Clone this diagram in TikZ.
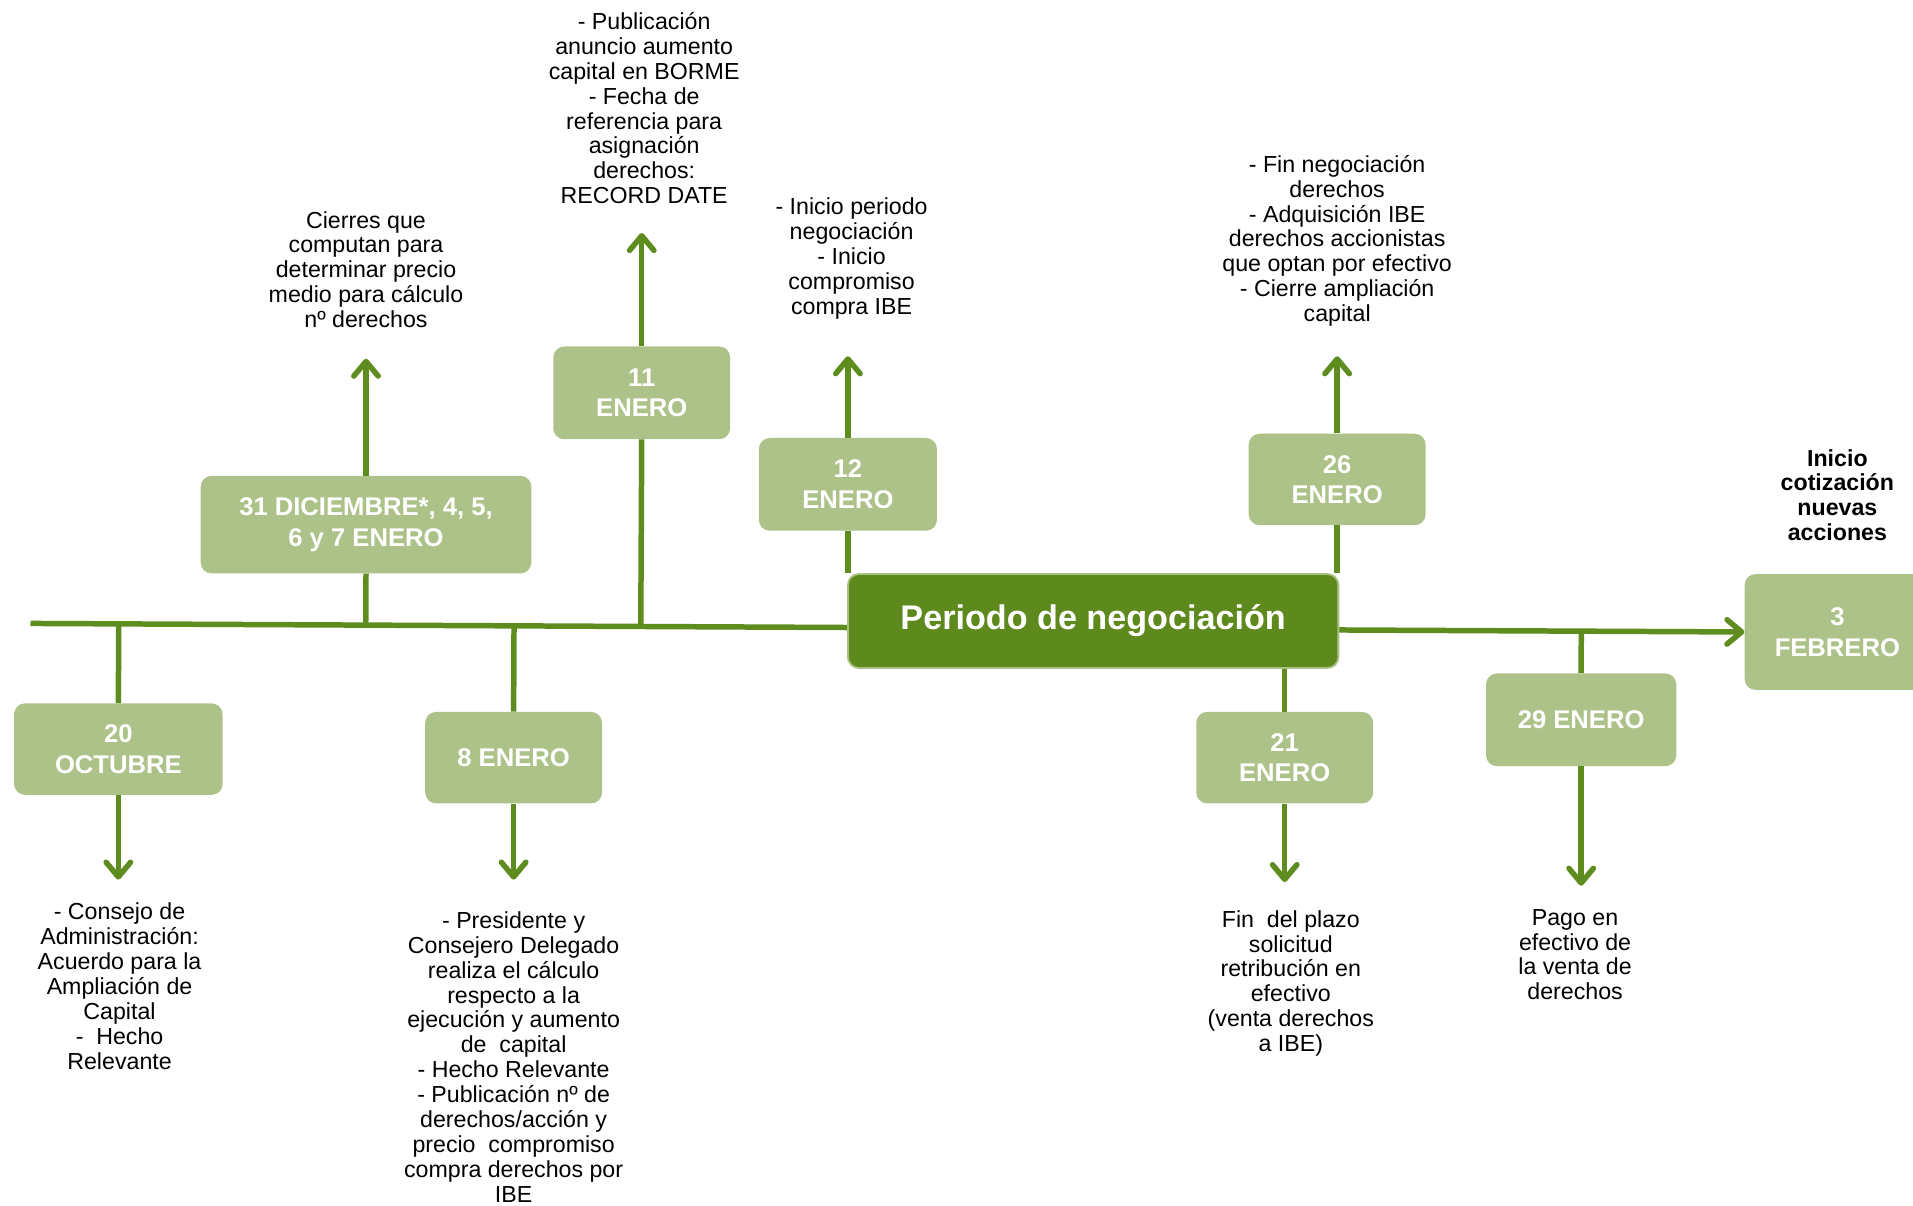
\documentclass[tikz,border=0pt]{standalone}
\usepackage{fontspec}
\setmainfont{Liberation Sans}
\usetikzlibrary{arrows.meta,calc}
\definecolor{linegreen}{HTML}{5E8C1F}
\definecolor{boxgreen}{HTML}{ADC288}
\definecolor{darkgreen}{HTML}{5E891D}
\definecolor{edgegreen}{HTML}{A9C283}
\tikzset{
  datebox/.style={rectangle, rounded corners=9pt, fill=boxgreen, text=white,
    font=\fontsize{21}{25}\selectfont\bfseries, align=center, inner sep=0pt},
  note/.style={font=\fontsize{19}{20.4}\selectfont, align=center, inner sep=0pt, anchor=north},
  stem/.style={draw=linegreen, line width=4.5pt},
  arr/.style={stem, -{Straight Barb[length=12pt,width=20pt,round]}},
}
\begin{document}
\begin{tikzpicture}[x=1pt,y=-1pt]
  \useasboundingbox (0,0) rectangle (1568,987.7);
  % date boxes
  \node[datebox, minimum width=171pt, minimum height=75pt] (oct) at (97,614) {20\\OCTUBRE};
  \node[datebox, minimum width=271pt, minimum height=80pt] (dic) at (300,430) {31 DICIEMBRE*, 4, 5,\\6 y 7 ENERO};
  \node[datebox, minimum width=145pt, minimum height=75pt] (e8) at (421,621) {8 ENERO};
  \node[datebox, minimum width=145pt, minimum height=76pt] (e11) at (526,322) {11\\ENERO};
  \node[datebox, minimum width=146pt, minimum height=76pt] (e12) at (695,397) {12\\ENERO};
  \node[datebox, minimum width=145pt, minimum height=75pt] (e26) at (1096,393) {26\\ENERO};
  \node[datebox, minimum width=145pt, minimum height=75pt] (e21) at (1053,621) {21\\ENERO};
  \node[datebox, minimum width=156pt, minimum height=76pt] (e29) at (1296,590) {29 ENERO};
  \node[datebox, minimum width=152pt, minimum height=95pt] (feb) at (1506,518) {3\\FEBRERO};
  % time line
  \coordinate (tlstart) at (25,511);
  \draw[arr] (tlstart) -- (feb.west);
  \node[datebox, fill=darkgreen, draw=edgegreen, line width=1.5pt, minimum width=402pt, minimum height=77pt,
    font=\fontsize{28}{32}\selectfont\bfseries] (periodo) at (896,509) {Periodo de negociación};
  % stems to the time line
  \draw[stem] (oct.north) -- ($(tlstart)!(oct.north)!(feb.west)$);
  \draw[stem] (dic.south) -- ($(tlstart)!(dic.south)!(feb.west)$);
  \draw[stem] (e8.north) -- ($(tlstart)!(e8.north)!(feb.west)$);
  \draw[stem] (e11.south) -- ($(tlstart)!(e11.south)!(feb.west)$);
  \draw[stem] (e29.north) -- ($(tlstart)!(e29.north)!(feb.west)$);
  \draw[stem] (e12.south) -- (e12.south |- periodo.north);
  \draw[stem] (e26.south) -- (e26.south |- periodo.north);
  \draw[stem] (periodo.south -| e21.north) -- (e21.north);
  % arrows to the notes
  \coordinate (octtip) at (97,721);
  \coordinate (dictip) at (300,294);
  \coordinate (e8tip) at (421,721);
  \coordinate (e11tip) at (526,191);
  \coordinate (e12tip) at (695,292);
  \coordinate (e26tip) at (1096,292);
  \coordinate (e21tip) at (1053,723);
  \coordinate (e29tip) at (1296,726);
  \draw[arr] (oct.south) -- (octtip);
  \draw[arr] (dic.north) -- (dictip);
  \draw[arr] (e8.south) -- (e8tip);
  \draw[arr] (e11.north) -- (e11tip);
  \draw[arr] (e12.north) -- (e12tip);
  \draw[arr] (e26.north) -- (e26tip);
  \draw[arr] (e21.south) -- (e21tip);
  \draw[arr] (e29.south) -- (e29tip);
  % notes
  \node[note] (octnote) at (98,740) {- Consejo de\\Administración:\\Acuerdo para la\\Ampliación de\\Capital\\-\ \ Hecho\\Relevante};
  \node[note] (dicnote) at (300,173) {Cierres que\\computan para\\determinar precio\\medio para cálculo\\nº derechos};
  \node[note] (e8note) at (421,747) {- Presidente y\\Consejero Delegado\\realiza el cálculo\\respecto a la\\ejecución y aumento\\de\ \ capital\\- Hecho Relevante\\- Publicación nº de\\derechos/acción y\\precio\ \ compromiso\\compra derechos por\\IBE};
  \node[note] (e11note) at (528,10) {- Publicación\\anuncio aumento\\capital en BORME\\- Fecha de\\referencia para\\asignación\\derechos:\\RECORD DATE};
  \node[note] (e12note) at (698,162) {- Inicio periodo\\negociación\\- Inicio\\compromiso\\compra IBE};
  \node[note] (e26note) at (1096,127) {- Fin negociación\\derechos\\- Adquisición IBE\\derechos accionistas\\que optan por efectivo\\- Cierre ampliación\\capital};
  \node[note] (e21note) at (1058,746) {Fin\ \ del plazo\\solicitud\\retribución en\\efectivo\\(venta derechos\\a IBE)};
  \node[note] (e29note) at (1291,745) {Pago en\\efectivo de\\la venta de\\derechos};
  \node[note, font=\fontsize{19}{20.4}\selectfont\bfseries] (febnote) at (1506,368) {Inicio\\cotización\\nuevas\\acciones};
\end{tikzpicture}
\end{document}
